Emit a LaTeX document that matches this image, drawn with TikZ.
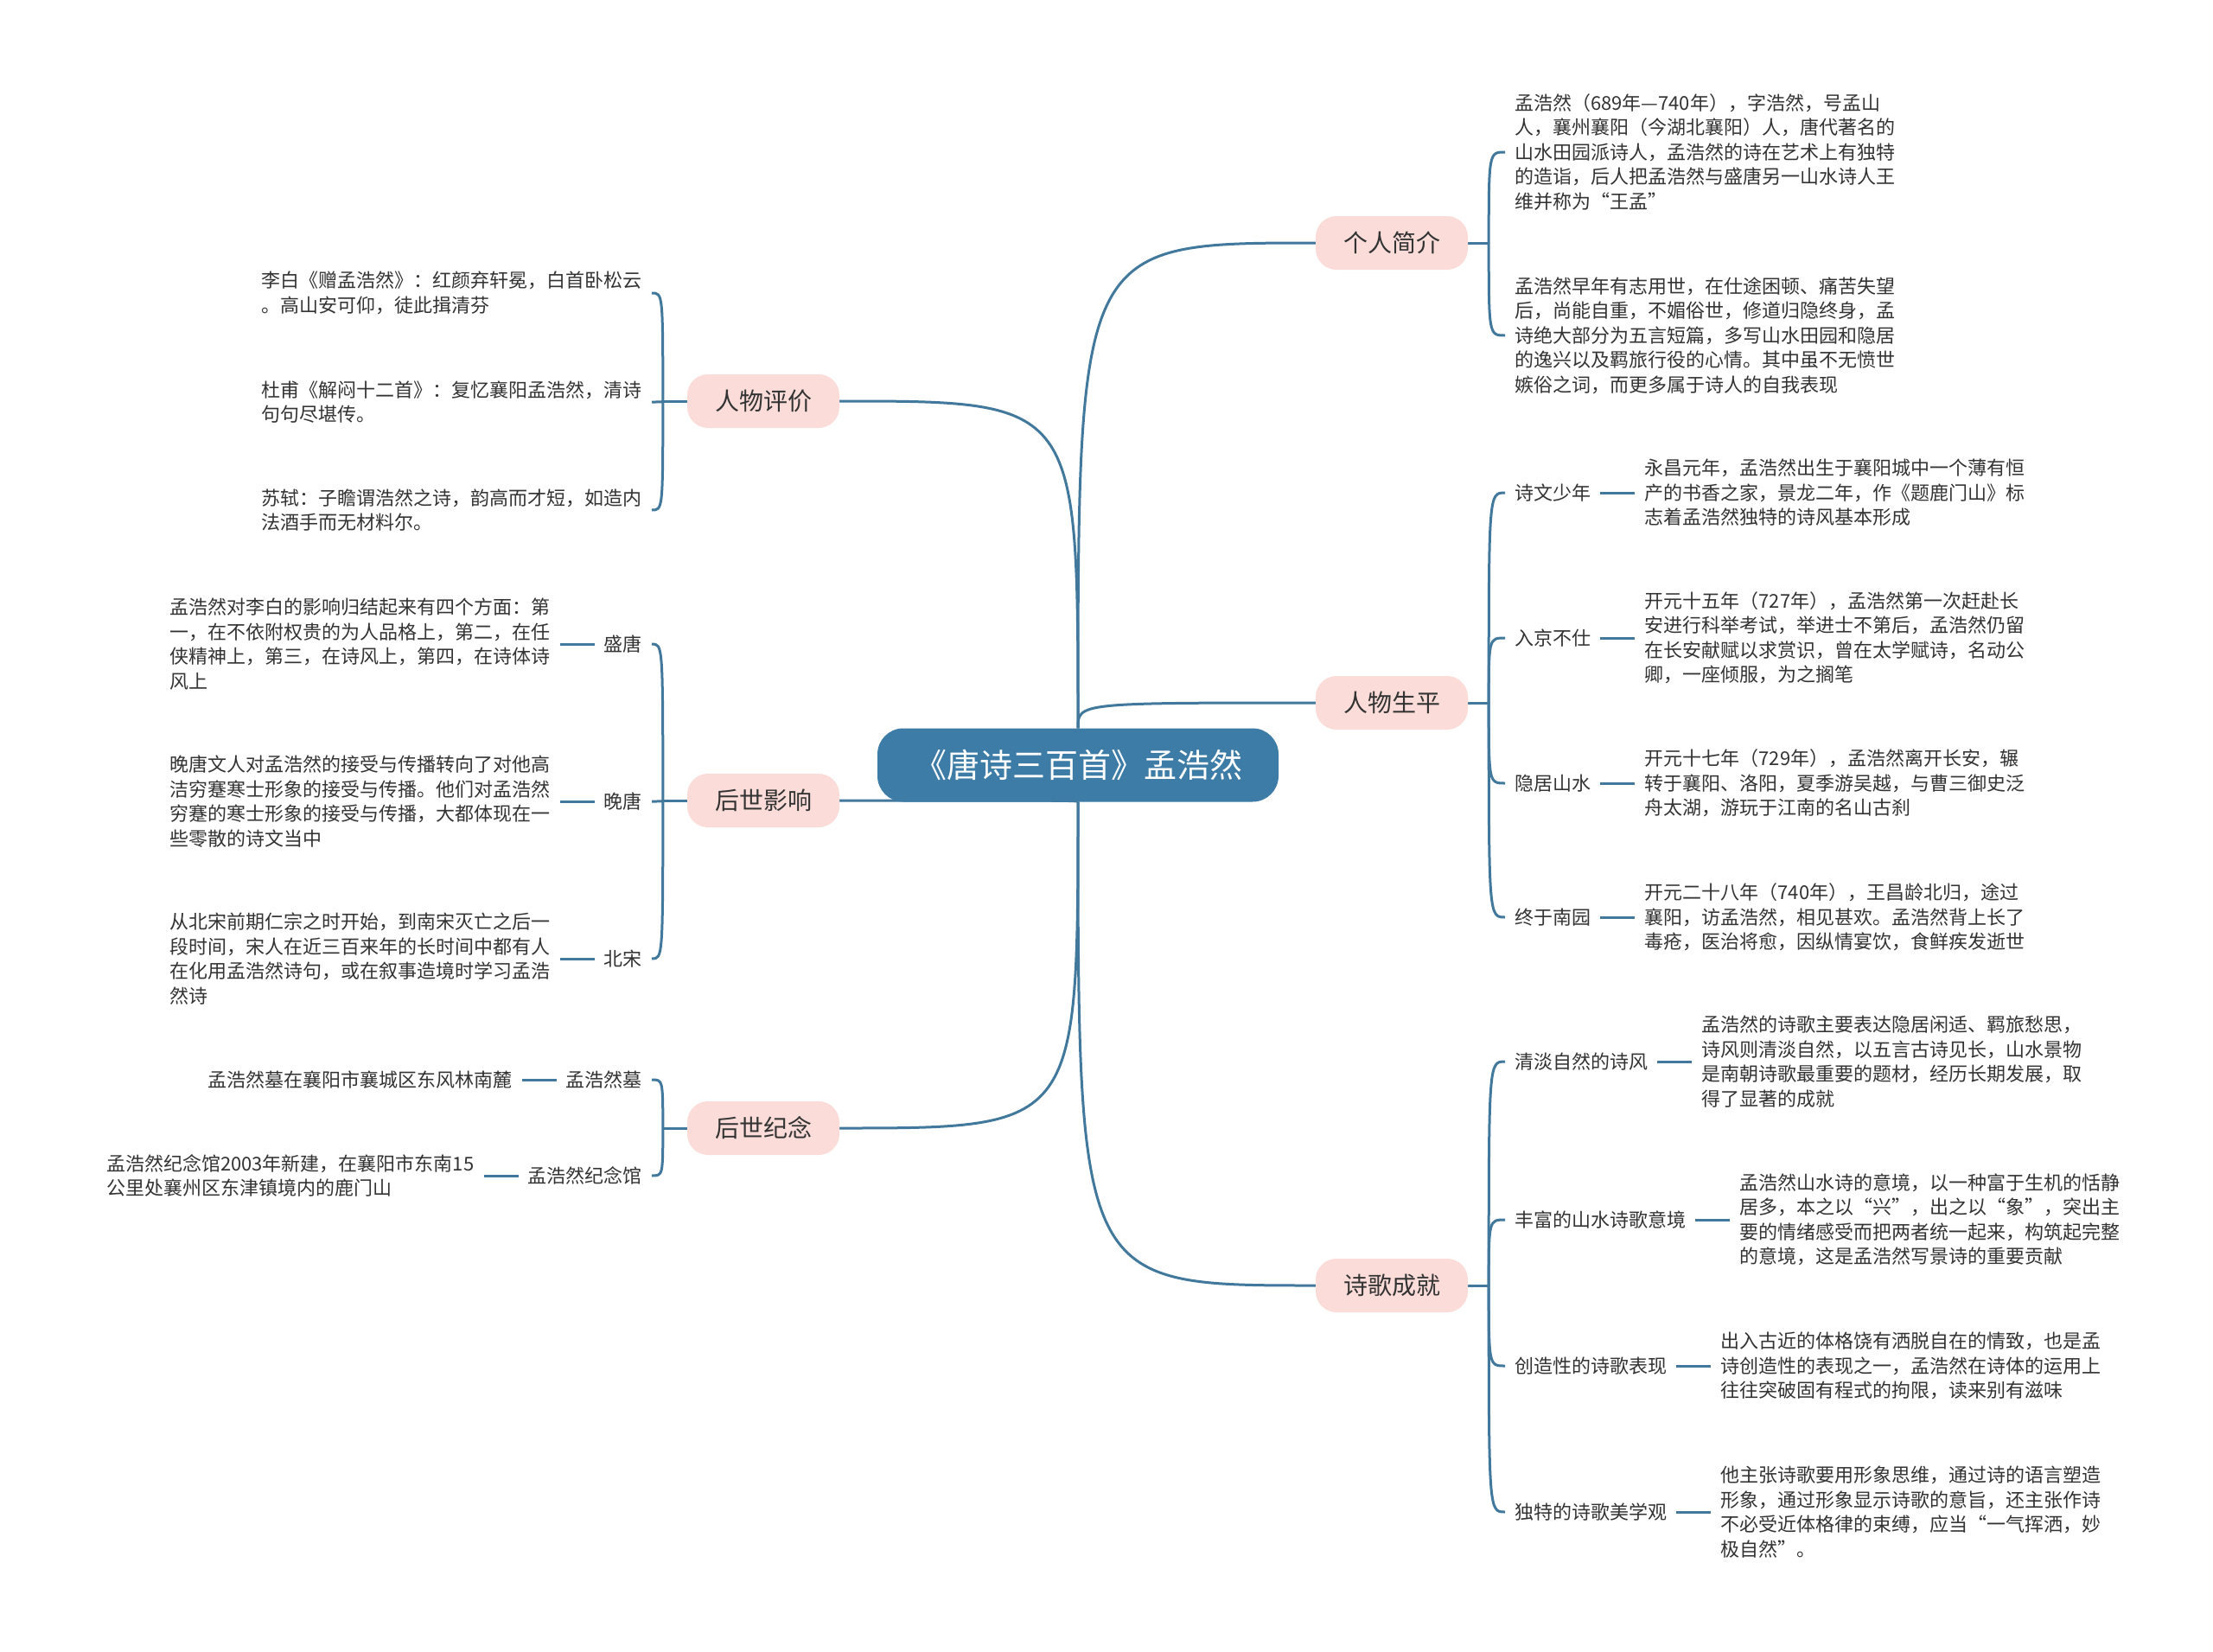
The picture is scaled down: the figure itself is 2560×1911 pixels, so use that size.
\documentclass[tikz,border=0pt]{standalone}
\usepackage{fontspec}
\setmainfont{Noto Sans CJK SC}
\usetikzlibrary{positioning,backgrounds}

\definecolor{linkblue}{HTML}{41789C}
\definecolor{rootblue}{HTML}{3D7CA6}
\definecolor{topicpink}{HTML}{FBDCD8}
\definecolor{inkgray}{HTML}{333333}

\tikzset{
  root/.style={fill=rootblue, text=white, rounded corners=30pt, minimum width=464pt, minimum height=85pt, font=\fontsize{38}{44}\selectfont},
  topic/.style={fill=topicpink, text=inkgray, rounded corners=24pt, minimum width=176pt, minimum height=62pt, font=\fontsize{28}{34}\selectfont},
  sub/.style={text=inkgray, inner xsep=11pt, inner ysep=2pt, font=\fontsize{22}{28.5}\selectfont},
  note/.style={sub, align=left},
  link/.style={draw=linkblue, line width=3pt},
}

% curve that leaves #1 straight and turns into #2
\newcommand\branchto[2]{\draw[link] (#1) .. controls (#1 |- #2) and (#1 |- #2) .. (#2);}

\begin{document}
\begin{tikzpicture}[x=1pt,y=-1pt]
  \useasboundingbox (0,0) rectangle (2560,1911);

  \node[root] (root) at (1247,885) {《唐诗三百首》孟浩然};

  % right topics
  \node[topic] (jj) at (1610,281) {个人简介};
  \node[topic] (sp) at (1610,813) {人物生平};
  \node[topic] (cj) at (1610,1487) {诗歌成就};
  % left topics
  \node[topic] (pj) at (883,464) {人物评价};
  \node[topic] (yx) at (883,926) {后世影响};
  \node[topic] (jn) at (883,1305) {后世纪念};

  \coordinate (jjx) at ([xshift=24pt]jj.east);
  \coordinate (spx) at ([xshift=24pt]sp.east);
  \coordinate (cjx) at ([xshift=24pt]cj.east);
  \coordinate (pjx) at ([xshift=-28pt]pj.west);
  \coordinate (yxx) at ([xshift=-28pt]yx.west);
  \coordinate (jnx) at ([xshift=-28pt]jn.west);

  % 个人简介
  \node[note, anchor=west] (jj1) at (1741,176) {孟浩然（689年—740年），字浩然，号孟山\\人，襄州襄阳（今湖北襄阳）人，唐代著名的\\山水田园派诗人，孟浩然的诗在艺术上有独特\\的造诣，后人把孟浩然与盛唐另一山水诗人王\\维并称为“王孟”};
  \node[note, anchor=west] (jj2) at (1741,388) {孟浩然早年有志用世，在仕途困顿、痛苦失望\\后，尚能自重，不媚俗世，修道归隐终身，孟\\诗绝大部分为五言短篇，多写山水田园和隐居\\的逸兴以及羁旅行役的心情。其中虽不无愤世\\嫉俗之词，而更多属于诗人的自我表现};

  % 人物生平
  \node[sub, anchor=west] (sw) at (1741,570) {诗文少年};
  \node[note, right=40pt of sw] (sw1) {永昌元年，孟浩然出生于襄阳城中一个薄有恒\\产的书香之家，景龙二年，作《题鹿门山》标\\志着孟浩然独特的诗风基本形成};
  \node[sub, anchor=west] (rj) at (1741,738) {入京不仕};
  \node[note, right=40pt of rj] (rj1) {开元十五年（727年），孟浩然第一次赶赴长\\安进行科举考试，举进士不第后，孟浩然仍留\\在长安献赋以求赏识，曾在太学赋诗，名动公\\卿，一座倾服，为之搁笔};
  \node[sub, anchor=west] (yj) at (1741,906) {隐居山水};
  \node[note, right=40pt of yj] (yj1) {开元十七年（729年），孟浩然离开长安，辗\\转于襄阳、洛阳，夏季游吴越，与曹三御史泛\\舟太湖，游玩于江南的名山古刹};
  \node[sub, anchor=west] (zy) at (1741,1061) {终于南园};
  \node[note, right=40pt of zy] (zy1) {开元二十八年（740年），王昌龄北归，途过\\襄阳，访孟浩然，相见甚欢。孟浩然背上长了\\毒疮，医治将愈，因纵情宴饮，食鲜疾发逝世};

  % 诗歌成就
  \node[sub, anchor=west] (qd) at (1741,1228) {清淡自然的诗风};
  \node[note, right=40pt of qd] (qd1) {孟浩然的诗歌主要表达隐居闲适、羁旅愁思，\\诗风则清淡自然，以五言古诗见长，山水景物\\是南朝诗歌最重要的题材，经历长期发展，取\\得了显著的成就};
  \node[sub, anchor=west] (ff) at (1741,1411) {丰富的山水诗歌意境};
  \node[note, right=40pt of ff] (ff1) {孟浩然山水诗的意境，以一种富于生机的恬静\\居多，本之以“兴”，出之以“象”，突出主\\要的情绪感受而把两者统一起来，构筑起完整\\的意境，这是孟浩然写景诗的重要贡献};
  \node[sub, anchor=west] (cz) at (1741,1580) {创造性的诗歌表现};
  \node[note, right=40pt of cz] (cz1) {出入古近的体格饶有洒脱自在的情致，也是孟\\诗创造性的表现之一，孟浩然在诗体的运用上\\往往突破固有程式的拘限，读来别有滋味};
  \node[sub, anchor=west] (dt) at (1741,1749) {独特的诗歌美学观};
  \node[note, right=40pt of dt] (dt1) {他主张诗歌要用形象思维，通过诗的语言塑造\\形象，通过形象显示诗歌的意旨，还主张作诗\\不必受近体格律的束缚，应当“一气挥洒，妙\\极自然”。};

  % 人物评价
  \node[note, anchor=east] (lb) at (754,339) {李白《赠孟浩然》：红颜弃轩冕，白首卧松云\\。高山安可仰，徒此揖清芬};
  \node[note, anchor=east] (df) at (754,465) {杜甫《解闷十二首》：复忆襄阳孟浩然，清诗\\句句尽堪传。};
  \node[note, anchor=east] (ss) at (754,590) {苏轼：子瞻谓浩然之诗，韵高而才短，如造内\\法酒手而无材料尔。};

  % 后世影响
  \node[sub, anchor=east] (st) at (754,745) {盛唐};
  \node[note, left=40pt of st] (st1) {孟浩然对李白的影响归结起来有四个方面：第\\一，在不依附权贵的为人品格上，第二，在任\\侠精神上，第三，在诗风上，第四，在诗体诗\\风上};
  \node[sub, anchor=east] (wt) at (754,927) {晚唐};
  \node[note, left=40pt of wt] (wt1) {晚唐文人对孟浩然的接受与传播转向了对他高\\洁穷蹇寒士形象的接受与传播。他们对孟浩然\\穷蹇的寒士形象的接受与传播，大都体现在一\\些零散的诗文当中};
  \node[sub, anchor=east] (bs) at (754,1109) {北宋};
  \node[note, left=40pt of bs] (bs1) {从北宋前期仁宗之时开始，到南宋灭亡之后一\\段时间，宋人在近三百来年的长时间中都有人\\在化用孟浩然诗句，或在叙事造境时学习孟浩\\然诗};

  % 后世纪念
  \node[sub, anchor=east] (mb) at (754,1249) {孟浩然墓};
  \node[note, left=40pt of mb] (mb1) {孟浩然墓在襄阳市襄城区东风林南麓};
  \node[sub, anchor=east] (jng) at (754,1360) {孟浩然纪念馆};
  \node[note, left=40pt of jng] (jng1) {孟浩然纪念馆2003年新建，在襄阳市东南15\\公里处襄州区东津镇境内的鹿门山};

  \begin{scope}[on background layer]
    \fill[white] (0,0) rectangle (2560,1911);
    % root to topics
    \branchto{root.north}{jj.west}
    \branchto{root.north}{sp.west}
    \branchto{root.south}{cj.west}
    \branchto{root.north}{pj.east}
    \branchto{root.south}{yx.east}
    \branchto{root.south}{jn.east}
    % topic stubs
    \draw[link] (jj.east) -- (jjx);
    \draw[link] (sp.east) -- (spx);
    \draw[link] (cj.east) -- (cjx);
    \draw[link] (pj.west) -- (pjx);
    \draw[link] (yx.west) -- (yxx);
    \draw[link] (jn.west) -- (jnx);
    % brackets
    \branchto{jjx}{jj1.west}
    \branchto{jjx}{jj2.west}
    \branchto{spx}{sw.west}
    \branchto{spx}{rj.west}
    \branchto{spx}{yj.west}
    \branchto{spx}{zy.west}
    \branchto{cjx}{qd.west}
    \branchto{cjx}{ff.west}
    \branchto{cjx}{cz.west}
    \branchto{cjx}{dt.west}
    \branchto{pjx}{lb.east}
    \branchto{pjx}{df.east}
    \branchto{pjx}{ss.east}
    \branchto{yxx}{st.east}
    \branchto{yxx}{wt.east}
    \branchto{yxx}{bs.east}
    \branchto{jnx}{mb.east}
    \branchto{jnx}{jng.east}
    % labels to texts
    \draw[link] (sw.east) -- (sw1.west);
    \draw[link] (rj.east) -- (rj1.west);
    \draw[link] (yj.east) -- (yj1.west);
    \draw[link] (zy.east) -- (zy1.west);
    \draw[link] (qd.east) -- (qd1.west);
    \draw[link] (ff.east) -- (ff1.west);
    \draw[link] (cz.east) -- (cz1.west);
    \draw[link] (dt.east) -- (dt1.west);
    \draw[link] (st.west) -- (st1.east);
    \draw[link] (wt.west) -- (wt1.east);
    \draw[link] (bs.west) -- (bs1.east);
    \draw[link] (mb.west) -- (mb1.east);
    \draw[link] (jng.west) -- (jng1.east);
  \end{scope}
\end{tikzpicture}
\end{document}
